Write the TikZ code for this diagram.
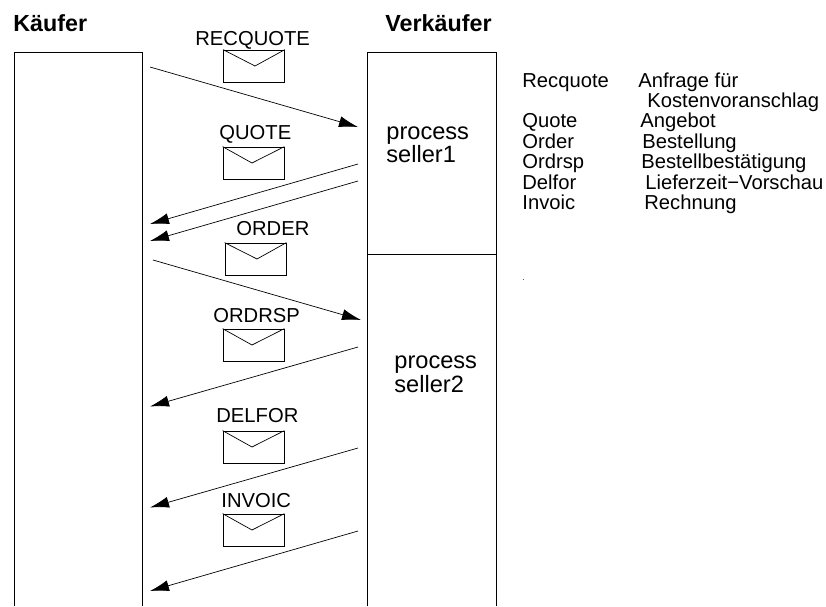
\documentclass[tikz,border=0pt]{standalone}
\usepackage{fontspec}
\setmainfont{Liberation Sans}
\usetikzlibrary{arrows.meta,positioning}

\tikzset{
  head/.style={inner sep=0pt,anchor=base west,font=\fontsize{23.3}{23}\selectfont\bfseries},
  msg/.style={inner sep=0pt,anchor=base west,font=\fontsize{20.2}{20}\selectfont},
  legend/.style={inner sep=0pt,anchor=base west,font=\fontsize{20.2}{20}\selectfont},
  proc/.style={inner sep=0pt,anchor=base west,align=left,font=\fontsize{23.6}{23.5}\selectfont},
  envelope/.style={draw,line width=0.7pt,minimum width=61pt,minimum height=32pt,inner sep=0pt},
  flow/.style={line width=0.7pt,-{Latex[length=19pt,width=11pt]}},
}

\begin{document}
\begin{tikzpicture}[x=1pt,y=-1pt,line width=0.8pt]
\useasboundingbox (0,0) rectangle (826,606);

\node[head] (kaeufer) at (13,31) {Käufer};
\node[head] (verkaeufer) at (385,31) {Verkäufer};

% lanes, open at the bottom
\draw (14,606) -- (14,52) -- (142,52) -- (142,606);
\draw (367,606) -- (367,52) -- (496,52) -- (496,606);
\draw (367,254) -- (496,254);

\node[proc] (seller1) at (386,139) {process};
\node[proc] (seller1b) at (386,162) {seller1};
\node[proc] (seller2) at (394,368) {process};
\node[proc] (seller2b) at (394,392) {seller2};

% messages
\node[msg] (recquote) at (195,45) {RECQUOTE};
\node[envelope] (env1) at (254,66) {};
\draw[line width=0.7pt] (env1.north west) -- ([xshift=1pt]env1.center) -- (env1.north east);
\node[msg] (quote) at (219,139) {QUOTE};
\node[envelope] (env2) at (253.5,163) {};
\draw[line width=0.7pt] (env2.north west) -- ([xshift=-1.5pt]env2.center) -- (env2.north east);
\node[msg] (order) at (236,235) {ORDER};
\node[envelope] (env3) at (255.5,259) {};
\draw[line width=0.7pt] (env3.north west) -- ([xshift=1.5pt]env3.center) -- (env3.north east);
\node[msg] (ordrsp) at (213,322) {ORDRSP};
\node[envelope] (env4) at (253.5,345) {};
\draw[line width=0.7pt] (env4.north west) -- ([xshift=-1.5pt]env4.center) -- (env4.north east);
\node[msg] (delfor) at (216,422) {DELFOR};
\node[envelope] (env5) at (253.5,447) {};
\draw[line width=0.7pt] (env5.north west) -- ([xshift=-1.5pt]env5.center) -- (env5.north east);
\node[msg] (invoic) at (221,507) {INVOIC};
\node[envelope] (env6) at (253.5,530) {};
\draw[line width=0.7pt] (env6.north west) -- ([xshift=-1.5pt]env6.center) -- (env6.north east);

% arrow ends
\coordinate (a1) at (150,67);   \coordinate (b1) at (358,127);
\coordinate (a2) at (358,164);  \coordinate (b2) at (150,224);
\coordinate (a3) at (358,181);  \coordinate (b3) at (150,241);
\coordinate (a4) at (153,260);  \coordinate (b4) at (361,320);
\coordinate (a5) at (358,347);  \coordinate (b5) at (150,406.5);
\coordinate (a6) at (358,448);  \coordinate (b6) at (150,507.5);
\coordinate (a7) at (358,531);  \coordinate (b7) at (150,591);
\draw[flow] (a1) -- (b1);
\draw[flow] (a2) -- (b2);
\draw[flow] (a3) -- (b3);
\draw[flow] (a4) -- (b4);
\draw[flow] (a5) -- (b5);
\draw[flow] (a6) -- (b6);
\draw[flow] (a7) -- (b7);

% legend
\node[legend] (l1) at (522,87) {Recquote};
\node[legend] (r1) at (638,87) {Anfrage für};
\node[legend] (r1b) at (647,107) {Kostenvoranschlag};
\node[legend] (l2) at (522,127) {Quote};
\node[legend] (r2) at (640,127) {Angebot};
\node[legend] (l3) at (522,148) {Order};
\node[legend] (r3) at (642,148) {Bestellung};
\node[legend] (l4) at (522,168) {Ordrsp};
\node[legend] (r4) at (641,168) {Bestellbestätigung};
\node[legend] (l5) at (522,189) {Delfor};
\node[legend] (r5) at (645,189) {Lieferzeit−Vorschau};
\node[legend] (l6) at (522,209) {Invoic};
\node[legend] (r6) at (644,209) {Rechnung};
\node[inner sep=0pt,anchor=base west,font=\fontsize{8}{8}\selectfont] (dot) at (522,280) {.};
\end{tikzpicture}
\end{document}
